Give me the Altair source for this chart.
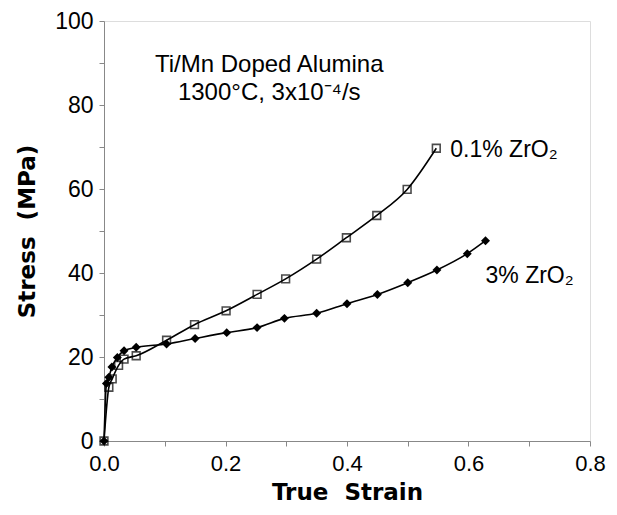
import altair as alt
import pandas as pd

# 0.1% ZrO2 (open squares)
sq_strain = [0.0, 0.008, 0.0135, 0.024, 0.033, 0.053, 0.103, 0.149, 0.201, 0.252, 0.299, 0.350, 0.399, 0.449, 0.499, 0.547]
sq_stress = [0.0, 12.8, 14.8, 18.0, 19.5, 20.3, 24.0, 27.7, 31.0, 34.9, 38.6, 43.3, 48.4, 53.7, 59.9, 69.7]

# 3% ZrO2 (filled diamonds)
di_strain = [0.0, 0.004, 0.008, 0.013, 0.022, 0.033, 0.053, 0.103, 0.150, 0.202, 0.252, 0.297, 0.350, 0.400, 0.450, 0.500, 0.548, 0.598, 0.628]
di_stress = [0.0, 13.7, 15.2, 17.6, 19.9, 21.5, 22.3, 23.1, 24.4, 25.8, 27.0, 29.2, 30.4, 32.7, 34.9, 37.7, 40.7, 44.6, 47.7]

x_ticks = [0.0, 0.1, 0.2, 0.3, 0.4, 0.5, 0.6, 0.7, 0.8]
y_ticks = [0, 10, 20, 30, 40, 50, 60, 70, 80, 90, 100]

ann_text = ["Ti/Mn Doped Alumina", "1300\u00b0C, 3x10\u207b\u2074/s"]
ann_x = [0.272, 0.272]
ann_y = [89.6, 82.9]

lab_text = ["0.1% ZrO\u2082", "3% ZrO\u2082"]
lab_x = [0.570, 0.628]
lab_y = [69.4, 39.2]

FONT = "Liberation Sans"
TFONT = "DejaVu Sans"

sq = pd.DataFrame({"strain": sq_strain, "stress": sq_stress})
di = pd.DataFrame({"strain": di_strain, "stress": di_stress})
ann = pd.DataFrame({"t": ann_text, "x": ann_x, "y": ann_y})
lab = pd.DataFrame({"t": lab_text, "x": lab_x, "y": lab_y})

xs = alt.Scale(domain=[0, 0.8], nice=False, zero=False)
ys = alt.Scale(domain=[0, 100], nice=False, zero=False)

X = alt.X("strain:Q", scale=xs, title="True\u00a0\u00a0Strain",
          axis=alt.Axis(values=x_ticks, grid=False, labelFlush=False,
                        labelExpr="round(datum.value*10) % 2 == 0 ? format(datum.value, '.1f') : ''",
                        titleFont=TFONT, titleFontWeight="bold", titleFontSize=23, titlePadding=7,
                        labelFontSize=22, labelPadding=7))
Y = alt.Y("stress:Q", scale=ys, title="Stress\u00a0\u00a0(MPa)",
          axis=alt.Axis(values=y_ticks, grid=False, labelFlush=False,
                        labelExpr="datum.value % 20 == 0 ? format(datum.value, 'd') : ''",
                        titleFont=TFONT, titleFontWeight="bold", titleFontSize=23, titlePadding=15,
                        labelFontSize=23, labelPadding=6))

sq_line = alt.Chart(sq).mark_line(color="black", strokeWidth=1.6, interpolate="monotone").encode(x=X, y=Y)
sq_pts = alt.Chart(sq).mark_point(shape="square", size=60, filled=False, color="black", strokeWidth=1.6).encode(x="strain:Q", y="stress:Q")
di_line = alt.Chart(di).mark_line(color="black", strokeWidth=1.6, interpolate="monotone").encode(x="strain:Q", y="stress:Q")
di_pts = alt.Chart(di).mark_point(shape="diamond", size=80, filled=True, color="black", opacity=1).encode(x="strain:Q", y="stress:Q")

ann_m = alt.Chart(ann).mark_text(font=FONT, fontSize=24, align="center", baseline="middle", color="black").encode(
    x="x:Q", y="y:Q", text="t:N")
lab_m = alt.Chart(lab).mark_text(font=FONT, fontSize=23, align="left", baseline="middle", color="black").encode(
    x="x:Q", y="y:Q", text="t:N")

chart = alt.layer(sq_line, di_line, sq_pts, di_pts, ann_m, lab_m).properties(
    width=486, height=420,
    autosize=alt.AutoSizeParams(type="none"),
    padding={"left": 96, "top": 13, "right": 19, "bottom": 66},
).configure_view(stroke="black", strokeWidth=1.6).configure_axis(
    labelFont=FONT, labelColor="black", titleColor="black",
    domainColor="black", tickColor="black", domainWidth=1.6, tickWidth=1.4, tickSize=7
).configure(background="white")

chart.save("out.html", embed_options={"renderer": "svg", "actions": False})
